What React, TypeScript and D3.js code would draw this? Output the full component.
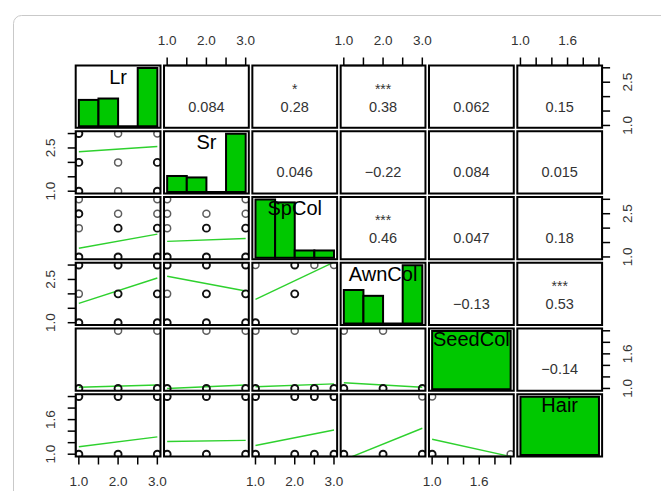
import React from "react";
import * as d3 from "d3";

// variables (diagonal) and their value ranges
const varNames = ["Lr", "Sr", "SpCol", "AwnCol", "SeedCol", "Hair"];
const varMin = [1, 1, 1, 1, 1, 1];
const varMax = [3, 3, 3, 3, 2, 2];

// histogram breaks and counts
const breaks13 = [1, 1.5, 2, 2.5, 3];
const breaks12 = [1, 2];
const lrCounts = [19, 20, 0, 42];
const srCounts = [11, 10, 0, 40];
const spColCounts = [40, 38, 5, 5];
const awnColCounts = [23, 19, 0, 40];
const seedColCounts = [81];
const hairCounts = [81];
const histCounts = [lrCounts, srCounts, spColCounts, awnColCounts, seedColCounts, hairCounts];

// upper triangle: correlations and significance stars, row by row
const corrRow1 = [0.084, 0.28, 0.38, 0.062, 0.15];
const corrRow2 = [0.046, -0.22, 0.084, 0.015];
const corrRow3 = [0.46, 0.047, 0.18];
const corrRow4 = [-0.13, 0.53];
const corrRow5 = [-0.14];
const starsRow1 = ["", "*", "***", "", ""];
const starsRow2 = ["", "", "", ""];
const starsRow3 = ["***", "", ""];
const starsRow4 = ["", "***"];
const starsRow5 = [""];
const corrRows = [corrRow1, corrRow2, corrRow3, corrRow4, corrRow5];
const starRows = [starsRow1, starsRow2, starsRow3, starsRow4, starsRow5];

// lower triangle: points [x, y, overplotted] and fitted line, keyed "row-col"
const scatterPoints: Record<string, number[][]> = {
  "1-0": [[1, 3, 1], [2, 3, 0], [3, 3, 0], [1, 2, 1], [2, 2, 0], [3, 2, 1], [1, 1, 1], [2, 1, 0], [3, 1, 1]],
  "2-0": [[1, 3, 0], [3, 3, 0], [1, 2.5, 1], [2, 2.5, 0], [3, 2.5, 0], [1, 2, 0], [2, 2, 1], [3, 2, 1], [1, 1, 1], [2, 1, 1], [3, 1, 1]],
  "2-1": [[1, 3, 0], [3, 3, 0], [1, 2.5, 0], [2, 2.5, 0], [3, 2.5, 0], [1, 2, 0], [2, 2, 1], [3, 2, 1], [1, 1, 1], [2, 1, 1], [3, 1, 1]],
  "3-0": [[1, 3, 1], [2, 3, 1], [3, 3, 1], [1, 2, 0], [2, 2, 1], [3, 2, 1], [1, 1, 1], [2, 1, 1], [3, 1, 1]],
  "3-1": [[1, 3, 1], [2, 3, 1], [3, 3, 1], [1, 2, 0], [2, 2, 1], [3, 2, 1], [1, 1, 1], [2, 1, 1], [3, 1, 1]],
  "3-2": [[1, 3, 0], [2, 3, 1], [2.5, 3, 0], [3, 3, 0], [2, 2, 1], [1, 1, 1]],
  "4-0": [[2, 2, 0], [3, 2, 0], [1, 1, 1], [2, 1, 1], [3, 1, 1]],
  "4-1": [[2, 2, 0], [3, 2, 0], [1, 1, 1], [2, 1, 1], [3, 1, 1]],
  "4-2": [[1, 2, 0], [2, 2, 0], [1, 1, 1], [2, 1, 1], [2.5, 1, 1], [3, 1, 1]],
  "4-3": [[1, 2, 0], [2, 2, 0], [1, 1, 1], [2, 1, 1], [3, 1, 1]],
  "5-0": [[1, 2, 1], [2, 2, 1], [3, 2, 1], [1, 1, 1], [2, 1, 1], [3, 1, 1]],
  "5-1": [[1, 2, 1], [2, 2, 1], [3, 2, 1], [1, 1, 1], [2, 1, 1], [3, 1, 1]],
  "5-2": [[1, 2, 1], [2, 2, 1], [2.5, 2, 1], [3, 2, 1], [1, 1, 1], [2, 1, 1], [2.5, 1, 1], [3, 1, 1]],
  "5-3": [[3, 2, 0], [1, 1, 1], [2, 1, 1], [3, 1, 1]],
  "5-4": [[1, 2, 0], [1, 1, 1], [2, 1, 0]],
};
const fitLines: Record<string, number[][]> = {
  "1-0": [[1, 2.37], [3, 2.55]],
  "2-0": [[1, 1.3], [3, 1.79]],
  "2-1": [[1, 1.54], [3, 1.64]],
  "3-0": [[1, 1.67], [3, 2.55]],
  "3-1": [[1, 2.61], [3, 2.1]],
  "3-2": [[1, 1.81], [3, 3.1]],
  "4-0": [[1, 1.02], [3, 1.06]],
  "4-1": [[1, 1.0], [3, 1.06]],
  "4-2": [[1, 1.03], [3, 1.08]],
  "4-3": [[1, 1.1], [3, 1.02]],
  "5-0": [[1, 1.13], [3, 1.3]],
  "5-1": [[1, 1.22], [3, 1.24]],
  "5-2": [[1, 1.15], [3, 1.42]],
  "5-3": [[1, 0.9], [3, 1.45]],
  "5-4": [[1, 1.26], [2, 0.96]],
};

// axis tick labels
const hLabels13 = [1, 2, 3];
const vLabels13 = [1, 2.5];
const labels12 = [1, 1.6];

const W = 661;
const H = 491;
const font = "'Liberation Sans', Arial, sans-serif";
const green = "#00C800";
const lineGreen = "#2ed12e";
const textGrey = "#333";

export default function App() {
  const idx = d3.range(6);
  const col = d3.scaleBand<number>().domain(idx).range([75.7, 602.1]).paddingInner(0.04);
  const row = d3.scaleBand<number>().domain(idx).range([65.5, 456.5]).paddingInner(0.053);
  const bw = col.bandwidth();
  const bh = row.bandwidth();

  const pad = (k: number) => 0.04 * (varMax[k] - varMin[k]);
  const xs = (k: number, c: number) =>
    d3.scaleLinear().domain([varMin[k] - pad(k), varMax[k] + pad(k)]).range([col(c)!, col(c)! + bw]);
  const ys = (k: number, r: number) =>
    d3.scaleLinear().domain([varMin[k] - pad(k), varMax[k] + pad(k)]).range([row(r)! + bh, row(r)!]);

  const fmtCorr = d3.format(".2r");
  const fmtTick = d3.format(".1f");

  const panels: React.ReactNode[] = [];
  idx.forEach((i) => {
    idx.forEach((j) => {
      const x0 = col(j)!;
      const y0 = row(i)!;
      const key = `${i}-${j}`;
      const clipId = `clip-${key}`;
      let inner: React.ReactNode = null;
      if (i === j) {
        const breaks = varMax[i] === 3 ? breaks13 : breaks12;
        const counts = histCounts[i];
        const x = xs(i, j);
        const hy = d3.scaleLinear().domain([0, d3.max(counts)!]).range([y0 + bh - 1.5, y0 + 2.5]);
        inner = (
          <g>
            {counts.map((c, b) =>
              c > 0 ? (
                <rect key={b} x={x(breaks[b])} y={hy(c)} width={x(breaks[b + 1]) - x(breaks[b])}
                  height={hy(0) - hy(c)} fill={green} stroke="#000" strokeWidth={2} />
              ) : (
                <line key={b} x1={x(breaks[b])} x2={x(breaks[b + 1])} y1={hy(0)} y2={hy(0)} stroke="#000" strokeWidth={2} />
              )
            )}
            <text x={x0 + bw / 2} y={y0 + 18} textAnchor="middle" fontSize={20} fontFamily={font} fill="#000">
              {varNames[i]}
            </text>
          </g>
        );
      } else if (i < j) {
        const v = corrRows[i][j - i - 1];
        const s = starRows[i][j - i - 1];
        inner = (
          <g fontFamily={font} fill={textGrey} textAnchor="middle">
            {s && <text x={x0 + bw / 2} y={y0 + 28} fontSize={14}>{s}</text>}
            <text x={x0 + bw / 2} y={y0 + 46} fontSize={14.5}>{fmtCorr(v)}</text>
          </g>
        );
      } else {
        const x = xs(j, j);
        const y = ys(i, i);
        const line = d3.line<number[]>().x((d) => x(d[0])).y((d) => y(d[1]));
        inner = (
          <g clipPath={`url(#${clipId})`}>
            <path d={line(fitLines[key])!} fill="none" stroke={lineGreen} strokeWidth={1.4} />
            {scatterPoints[key].map((p, k) => (
              <circle key={k} cx={x(p[0])} cy={y(p[1])} r={3.5} fill="none"
                stroke={p[2] ? "#111" : "#5e5e5e"} strokeWidth={p[2] ? 1.9 : 1.5} />
            ))}
          </g>
        );
      }
      panels.push(
        <g key={key}>
          <clipPath id={clipId}>
            <rect x={x0} y={y0} width={bw} height={bh} />
          </clipPath>
          {inner}
          <rect x={x0} y={y0} width={bw} height={bh} fill="none" stroke="#000" strokeWidth={2} />
        </g>
      );
    });
  });

  // axes: top on odd columns, bottom on even columns, left on odd rows, right on even rows
  const axes: React.ReactNode[] = [];
  idx.forEach((k) => {
    const is13 = varMax[k] === 3;
    const tickVals = xs(k, k).ticks(5);
    const hLab = is13 ? hLabels13 : labels12;
    const vLab = is13 ? vLabels13 : labels12;
    const top = k % 2 === 1;
    // horizontal axis for column k
    const x = xs(k, k);
    const ya = top ? row(0)! : row(5)! + bh;
    const dir = top ? -1 : 1;
    axes.push(
      <g key={`h${k}`} stroke="#000" strokeWidth={1.5}>
        <line x1={x(tickVals[0])} x2={x(tickVals[tickVals.length - 1])} y1={ya} y2={ya} />
        {tickVals.map((t) => (
          <line key={t} x1={x(t)} x2={x(t)} y1={ya} y2={ya + dir * 8} />
        ))}
        {hLab.map((t) => (
          <text key={`l${t}`} x={x(t)} y={ya + dir * 25} dy="0.35em" textAnchor="middle" fontSize={13.5}
            fontFamily={font} fill={textGrey} stroke="none">{fmtTick(t)}</text>
        ))}
      </g>
    );
    // vertical axis for row k
    const y = ys(k, k);
    const left = k % 2 === 1;
    const xa = left ? col(0)! : col(5)! + bw;
    const vd = left ? -1 : 1;
    axes.push(
      <g key={`v${k}`} stroke="#000" strokeWidth={1.5}>
        <line x1={xa} x2={xa} y1={y(tickVals[0])} y2={y(tickVals[tickVals.length - 1])} />
        {tickVals.map((t) => (
          <line key={t} x1={xa} x2={xa + vd * 8} y1={y(t)} y2={y(t)} />
        ))}
        {vLab.map((t) => (
          <text key={`l${t}`} transform={`translate(${xa + vd * 25},${y(t)}) rotate(-90)`} dy="0.35em"
            textAnchor="middle" fontSize={13.5} fontFamily={font} fill={textGrey} stroke="none">{fmtTick(t)}</text>
        ))}
      </g>
    );
  });

  return (
    <svg width={W} height={H} style={{ position: "absolute", left: 0, top: 0, display: "block", background: "#fff" }}>
      <rect x={13.5} y={15.5} width={720} height={600} rx={8} fill="#fff" stroke="#c9c9c9" strokeWidth={1} />
      {axes}
      {panels}
    </svg>
  );
}
